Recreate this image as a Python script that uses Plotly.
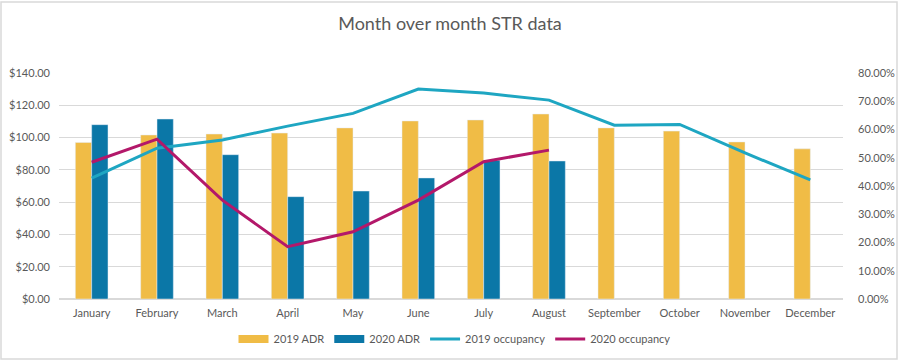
import plotly.graph_objects as go

months = ["January", "February", "March", "April", "May", "June", "July",
          "August", "September", "October", "November", "December"]
adr_2019 = [97, 101.6, 102.2, 102.8, 106, 110.3, 110.9, 114.6, 106, 104, 97.3, 93]
adr_2020 = [108, 111.5, 89.4, 63.4, 66.9, 75, 86, 85.5, None, None, None, None]
occ_2019 = [0.428, 0.534, 0.563, 0.612, 0.657, 0.743, 0.729, 0.704, 0.615, 0.618, 0.517, 0.422]
occ_2020 = [0.484, 0.566, 0.35, 0.185, 0.238, 0.35, 0.486, 0.527, None, None, None, None]

left_ticks = [0, 20, 40, 60, 80, 100, 120, 140]
right_ticks = [0, 0.1, 0.2, 0.3, 0.4, 0.5, 0.6, 0.7, 0.8]

c19, c20 = "#F0BC46", "#0B77A7"
fig = go.Figure()
fig.add_trace(go.Bar(x=months, y=adr_2019, name="2019 ADR", marker_color=c19, showlegend=False))
fig.add_trace(go.Bar(x=months, y=adr_2020, name="2020 ADR", marker_color=c20, showlegend=False))
# legend-only entries with wide swatches like the reference
fig.add_trace(go.Scatter(x=[None], y=[None], name="2019 ADR", mode="lines",
                         line=dict(color=c19, width=8)))
fig.add_trace(go.Scatter(x=[None], y=[None], name="2020 ADR", mode="lines",
                         line=dict(color=c20, width=8)))
fig.add_trace(go.Scatter(x=months, y=occ_2019, name="2019 occupancy", mode="lines",
                         line=dict(color="#1EA6C2", width=3), yaxis="y2"))
fig.add_trace(go.Scatter(x=months, y=occ_2020, name="2020 occupancy", mode="lines",
                         line=dict(color="#B3186A", width=3), yaxis="y2"))

grey = "#595959"
fig.update_layout(
    width=900, height=361,
    paper_bgcolor="white", plot_bgcolor="white",
    font=dict(family="Lato, Open Sans, sans-serif", size=11, color=grey),
    title=dict(text="Month over month STR data", x=0.5, xanchor="center", y=0.935, yanchor="middle",
               font=dict(size=18, color=grey)),
    margin=dict(l=59, r=57, t=73, b=62),
    barmode="group", bargap=0.5, bargroupgap=0,
    showlegend=True,
    legend=dict(orientation="h", x=0.505, xanchor="center", xref="container",
                y=1 - 339 / 361, yanchor="middle", yref="container",
                font=dict(size=11, color=grey), itemwidth=30, traceorder="normal"),
    xaxis=dict(showgrid=False, showline=False, ticks="", automargin=False, ticklabelstandoff=6,
               tickfont=dict(size=11, color=grey)),
    yaxis=dict(range=[0, 140], tickvals=left_ticks, ticktext=[f"${v:.2f}" for v in left_ticks],
               showgrid=True, gridcolor="#D9D9D9", gridwidth=1, zeroline=True, zerolinecolor="#D9D9D9",
               ticks="", ticklabelstandoff=8, automargin=False, tickfont=dict(size=11, color=grey)),
    yaxis2=dict(range=[0, 0.8], overlaying="y", side="right", tickvals=right_ticks,
                ticktext=[f"{v*100:.2f}%" for v in right_ticks], showgrid=False, zeroline=False,
                ticks="", ticklabelstandoff=14, automargin=False, tickfont=dict(size=11, color=grey)),
)
fig.add_shape(type="rect", xref="paper", yref="paper", x0=-58/784, x1=(897-59)/784,
              y0=-60/226, y1=1 + 71/226, line=dict(color="#D9D9D9", width=1.5), fillcolor="rgba(0,0,0,0)")
fig.write_html("out.html", config={"displayModeBar": False},
               post_script="document.body.style.margin='0';")
